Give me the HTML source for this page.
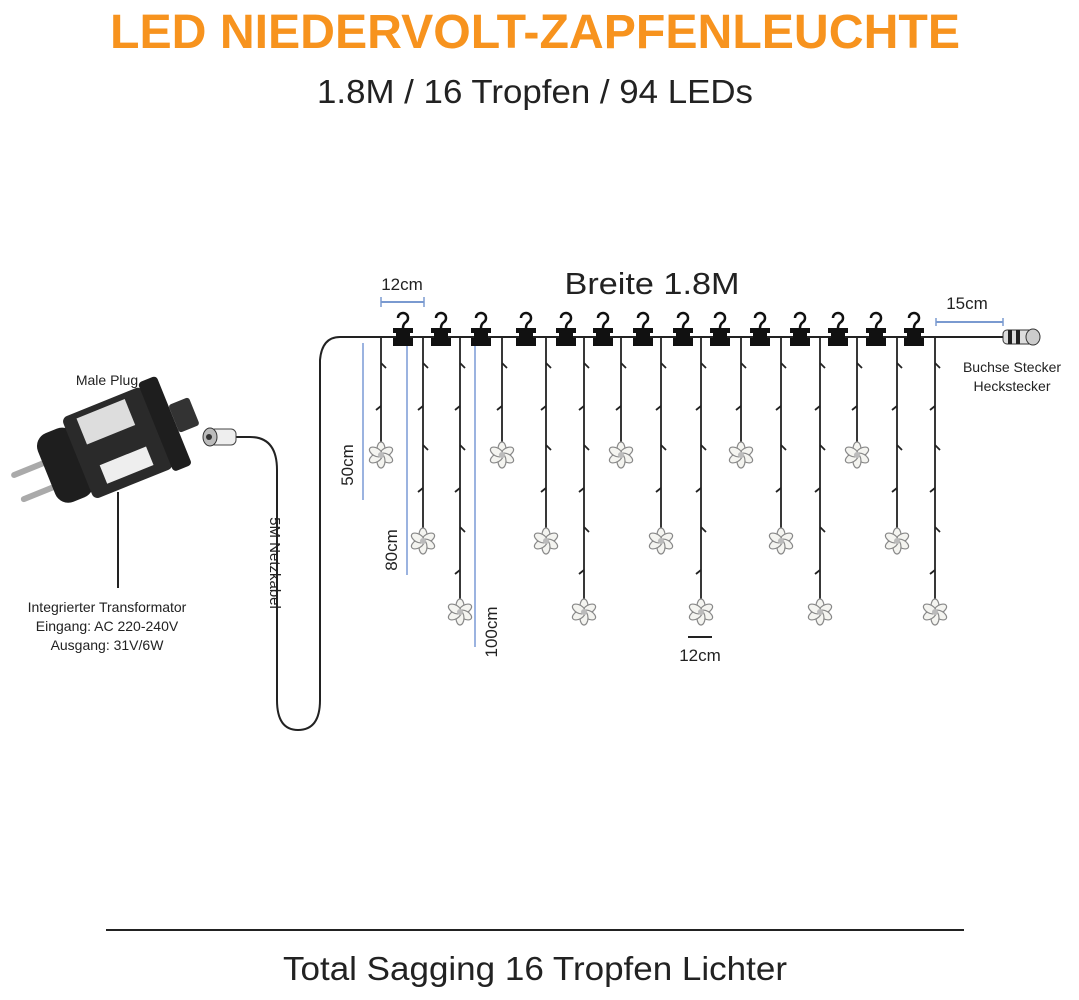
<!DOCTYPE html>
<html><head><meta charset="utf-8"><style>
html,body{margin:0;padding:0;background:#fff;width:1079px;height:1000px;overflow:hidden}
svg{display:block}
text{font-family:"Liberation Sans",sans-serif}
</style></head><body>
<svg id="s" width="1079" height="1000" viewBox="0 0 1079 1000" xmlns="http://www.w3.org/2000/svg">
<text x="535" y="48" text-anchor="middle" font-size="48" font-weight="bold" fill="#f7931e" textLength="850" lengthAdjust="spacingAndGlyphs">LED NIEDERVOLT-ZAPFENLEUCHTE</text>
<text x="535" y="103" text-anchor="middle" font-size="33" fill="#222" textLength="436" lengthAdjust="spacingAndGlyphs">1.8M / 16 Tropfen / 94 LEDs</text>
<text x="652" y="294" text-anchor="middle" font-size="31" fill="#222" textLength="175" lengthAdjust="spacingAndGlyphs">Breite 1.8M</text>
<text x="402" y="290" text-anchor="middle" font-size="17" fill="#222">12cm</text>
<line x1="381" y1="302" x2="424" y2="302" stroke="#7a9ad0" stroke-width="2"/>
<line x1="381" y1="297" x2="381" y2="307" stroke="#7a9ad0" stroke-width="1.5"/>
<line x1="424" y1="297" x2="424" y2="307" stroke="#7a9ad0" stroke-width="1.5"/>
<text x="967" y="309" text-anchor="middle" font-size="17" fill="#222">15cm</text>
<line x1="936" y1="322" x2="1003" y2="322" stroke="#7a9ad0" stroke-width="2"/>
<line x1="936" y1="318" x2="936" y2="326" stroke="#7a9ad0" stroke-width="1.5"/>
<line x1="1003" y1="318" x2="1003" y2="326" stroke="#7a9ad0" stroke-width="1.5"/>
<text x="1012" y="372" text-anchor="middle" font-size="14" fill="#222">Buchse Stecker</text>
<text x="1012" y="391" text-anchor="middle" font-size="14" fill="#222">Heckstecker</text>
<path d="M1028 337 L340 337 Q322 337 320 360 L320 700 Q320 730 298 730 Q277 730 277 700 L277 470 Q277 437 250 437 L232 437" fill="none" stroke="#222" stroke-width="2"/>
<g transform="translate(1000,337)">
<rect x="3" y="-7" width="30" height="14" rx="4" fill="#ddd" stroke="#333"/>
<rect x="8" y="-7" width="4" height="14" fill="#222"/><rect x="16" y="-7" width="4" height="14" fill="#222"/>
<ellipse cx="33" cy="0" rx="7" ry="8" fill="#ccc" stroke="#333"/>
</g>
<g transform="translate(200,437)">
<rect x="10" y="-8" width="26" height="16" rx="5" fill="#eee" stroke="#444"/>
<ellipse cx="10" cy="0" rx="7" ry="9" fill="#bbb" stroke="#333"/>
<circle cx="9" cy="0" r="3" fill="#333"/>
</g>
<line x1="363" y1="343" x2="363" y2="500" stroke="#9bb3e0" stroke-width="2"/>
<line x1="407" y1="345" x2="407" y2="575" stroke="#9bb3e0" stroke-width="2"/>
<line x1="475" y1="345" x2="475" y2="647" stroke="#9bb3e0" stroke-width="2"/>
<text transform="translate(353,465) rotate(-90)" text-anchor="middle" font-size="17" fill="#222">50cm</text>
<text transform="translate(397,550) rotate(-90)" text-anchor="middle" font-size="17" fill="#222">80cm</text>
<text transform="translate(497,632) rotate(-90)" text-anchor="middle" font-size="17" fill="#222">100cm</text>
<line x1="688" y1="637" x2="712" y2="637" stroke="#222" stroke-width="2"/>
<text x="700" y="661" text-anchor="middle" font-size="17" fill="#222">12cm</text>
<text transform="translate(270,563) rotate(90)" text-anchor="middle" font-size="15" fill="#222">5M Netzkabel</text>
<text x="107" y="385" text-anchor="middle" font-size="14" fill="#222">Male Plug</text>
<g transform="translate(100,450) rotate(-22)">
<rect x="-92" y="-12" width="42" height="6" rx="3" fill="#aaa"/>
<rect x="-92" y="14" width="42" height="6" rx="3" fill="#aaa"/>
<rect x="-58" y="-36" width="40" height="74" rx="14" fill="#1e1e1e"/>
<rect x="-24" y="-44" width="86" height="88" rx="6" fill="#2a2a2a"/>
<rect x="-10" y="-38" width="52" height="28" fill="#ddd"/>
<rect x="-6" y="14" width="50" height="20" fill="#eee"/>
<rect x="60" y="-48" width="20" height="96" rx="4" fill="#1e1e1e"/>
<rect x="80" y="-16" width="22" height="30" rx="3" fill="#333"/>
</g>
<line x1="118" y1="492" x2="118" y2="588" stroke="#222" stroke-width="2"/>
<text x="107" y="612" text-anchor="middle" font-size="14" fill="#222">Integrierter Transformator</text>
<text x="107" y="631" text-anchor="middle" font-size="14" fill="#222">Eingang: AC 220-240V</text>
<text x="107" y="650" text-anchor="middle" font-size="14" fill="#222">Ausgang: 31V/6W</text>
<line x1="106" y1="930" x2="964" y2="930" stroke="#222" stroke-width="2"/>
<text x="535" y="980" text-anchor="middle" font-size="33" fill="#222" textLength="504" lengthAdjust="spacingAndGlyphs">Total Sagging 16 Tropfen Lichter</text>
<g id="g"></g>
</svg>
<script>
var g=document.getElementById('g'),h='';
var hooks=[403,441,481,526,566,603,643,683,720,760,800,838,876,914];
hooks.forEach(function(x){
 h+='<path d="M'+(x-5)+' 318 A5 5 0 1 1 '+(x+3)+' 322 Q'+x+' 324 '+x+' 328" fill="none" stroke="#111" stroke-width="2.5"/>';
 h+='<path d="M'+(x-10)+' 328 h20 v5 h-3 v5 h3 v8 h-20 v-8 h3 v-5 h-3z" fill="#111"/>';
});
var drops=[[381,455],[423,541],[460,612],[502,455],[546,541],[584,612],[621,455],[661,541],[701,612],[741,455],[781,541],[820,612],[857,455],[897,541],[935,612]];
drops.forEach(function(d,i){
 var x=d[0],e=d[1]-12;
 h+='<line x1="'+x+'" y1="337" x2="'+x+'" y2="'+e+'" stroke="#222" stroke-width="1.8"/>';
 for(var y=367,k=0;y<e-8;y+=41,k++){
  if(k%2==0)h+='<path d="M'+x+' '+(y-4)+' l5 5" stroke="#222" stroke-width="1.8"/>';
  else h+='<path d="M'+x+' '+(y-2)+' l-5 4" stroke="#222" stroke-width="1.8"/>';
 }
 var cy=d[1],s='';
 for(var a=0;a<6;a++){s+='<ellipse cx="'+x+'" cy="'+(cy-6)+'" rx="4" ry="7" transform="rotate('+(a*60)+' '+x+' '+cy+')" fill="#f4f4f0" stroke="#888" stroke-width="1.2"/>';}
 h+=s+'<circle cx="'+x+'" cy="'+cy+'" r="3" fill="#bbb"/>';
});
g.innerHTML=h;
</script>
</body></html>
